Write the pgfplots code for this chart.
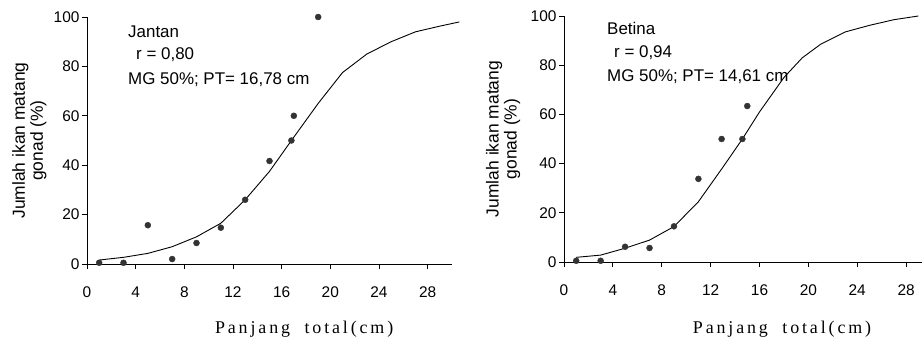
\documentclass[border=0pt]{standalone}
\usepackage{fontspec}
\setmainfont{Liberation Sans}
\newfontfamily\serifls[LetterSpace=16]{Liberation Serif}
\usepackage{pgfplots}
\pgfplotsset{compat=1.18}
\definecolor{dot}{HTML}{333333}
\pgfplotsset{myax/.style={
  scale only axis, axis lines=left,
  axis line style={-, black, line width=0.9bp},
  xmin=0, ymin=0, ymax=100,
  ytick={0,20,...,100}, xtick={0,4,...,28},
  tick align=outside, major tick length=5bp,
  tick style={black, line width=0.9bp},
  ticklabel style={font=\fontsize{15.5}{17}\selectfont},
  /pgf/number format/assume math mode=true,
  xticklabel style={yshift=-14bp},
  yticklabel style={xshift=1bp},
  ylabel style={align=center, font=\fontsize{17.5}{18}\selectfont, anchor=center},
  xlabel style={font=\serifls\fontsize{18}{20}\selectfont, anchor=base},
  clip=false, anchor=south west,
}}
\begin{document}
\begin{tikzpicture}
\useasboundingbox (0,0) rectangle (924bp,338bp);
% Left panel: Jantan
\begin{axis}[myax, at={(87bp,74bp)}, width=365bp, height=247bp, xmax=30,
  ylabel={Jumlah ikan matang\\gonad (\%)},
  ylabel style={at={(axis description cs:-0.158,0.5)}},
  xlabel={Panjang\hspace{0.4em} total(cm)},
  xlabel style={at={(axis description cs:0.595,0)}, yshift=-69bp}]
\addplot[black, line width=0.9bp] coordinates {
 (1,1.6) (3,2.7) (5,4.3) (7,7) (9,11) (11,16.5) (13,26) (15,37.5) (16.8,50)
 (19,65) (21,77.5) (23,85) (25,90) (27,94) (29,96.3) (30.6,98)};
\addplot[only marks, mark=*, mark size=3bp, draw=dot, fill=dot] coordinates {
 (1,0.5) (3,0.5) (5,15.7) (7,2) (9,8.5) (11,14.7) (13,26) (15,41.7)
 (16.8,50) (17,60) (19,100)};
\node[anchor=base west, inner sep=0, font=\fontsize{17}{19}\selectfont] at (axis cs:3.37,91.9) {Jantan};
\node[anchor=base west, inner sep=0, font=\fontsize{17}{19}\selectfont] at (axis cs:4.03,82.6) {r = 0,80};
\node[anchor=base west, inner sep=0, font=\fontsize{17}{19}\selectfont] at (axis cs:3.37,72.5) {MG 50\%; PT= 16,78 cm};
\end{axis}
% Right panel: Betina
\begin{axis}[myax, at={(564bp,76bp)}, width=358bp, height=246bp, xmax=29.3,
  ylabel={Jumlah ikan matang\\gonad (\%)},
  ylabel style={at={(axis description cs:-0.17,0.5)}},
  xlabel={Panjang\hspace{0.4em} total(cm)},
  xlabel style={at={(axis description cs:0.609,0)}, yshift=-71bp}]
\addplot[black, line width=0.9bp] coordinates {
 (1,1.9) (3,2.8) (5,5.6) (7,8.9) (9,14.4) (11,24.5) (13,38.5) (14.6,50)
 (16,61) (18,75) (19.5,83) (21,88.5) (23,93.5) (25,96.2) (27,98.5) (29,100)};
\addplot[only marks, mark=*, mark size=3bp, draw=dot, fill=dot] coordinates {
 (1,0.5) (3,0.5) (5,6.2) (7,5.7) (9,14.5) (11,33.8) (12.9,50) (14.6,50) (15,63.4)};
\node[anchor=base west, inner sep=0, font=\fontsize{17}{19}\selectfont] at (axis cs:3.52,92.3) {Betina};
\node[anchor=base west, inner sep=0, font=\fontsize{17}{19}\selectfont] at (axis cs:4.09,83.3) {r = 0,94};
\node[anchor=base west, inner sep=0, font=\fontsize{17}{19}\selectfont] at (axis cs:3.52,73.2) {MG 50\%; PT= 14,61 cm};
\end{axis}
\end{tikzpicture}
\end{document}
